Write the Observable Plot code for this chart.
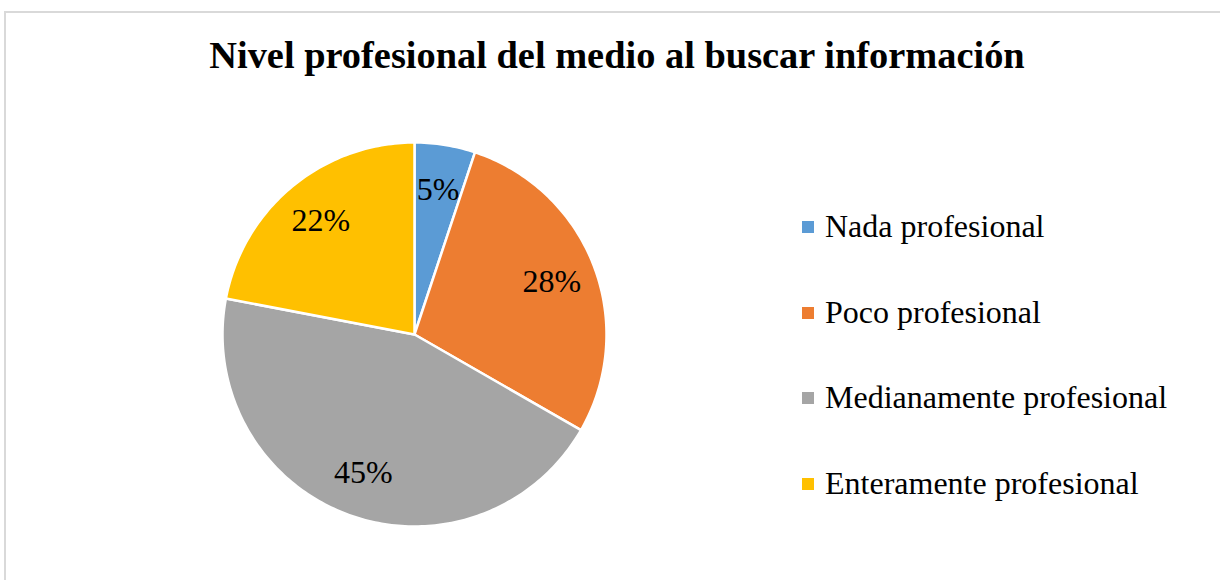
<!DOCTYPE html>
<html>
<head>
<meta charset="utf-8">
<script src="https://cdn.jsdelivr.net/npm/d3@7"></script>
<script src="https://cdn.jsdelivr.net/npm/@observablehq/plot@0.6"></script>
<style>
  html, body { margin: 0; padding: 0; background: #fff; }
  #wrap { position: relative; width: 1220px; height: 580px; overflow: hidden; font-family: "Liberation Serif", "Times New Roman", serif; }
  #border { position: absolute; left: 4px; top: 11px; width: 1300px; height: 700px; border-left: 2px solid #d9d9d9; border-top: 2px solid #d9d9d9; }
  #chart { position: absolute; left: 0; top: 0; }
  #title { position: absolute; left: 617px; top: 35px; transform: translateX(-50%); white-space: nowrap; font-weight: bold; font-size: 38.4px; line-height: 40px; color: #000; }
  .row { position: absolute; left: 802px; height: 32px; font-size: 32px; line-height: 32px; white-space: nowrap; color: #000; }
  .sw { position: absolute; left: 0; top: 11px; width: 12px; height: 12px; }
  .lab { position: absolute; left: 23px; top: 0; }
</style>
</head>
<body>
<div id="wrap">
  <div id="border"></div>
  <div id="chart"></div>
  <div id="title"></div>
  <div id="legend"></div>
</div>
<script>
const title = "Nivel profesional del medio al buscar información";
const categories = ["Nada profesional", "Poco profesional", "Medianamente profesional", "Enteramente profesional"];
const values = [5.1, 28.2, 44.7, 22.0];
const colors = ["#5B9BD5", "#ED7D31", "#A5A5A5", "#FFC000"];

const W = 1220, H = 580;
const cx = 414, cy = 334, R = 192;

const total = d3.sum(values);
const pie = d3.pie().sort(null).value(d => d.value)(categories.map((c, i) => ({category: c, value: values[i]})));

// Polygon points for each slice (unit circle, clockwise from top)
const slicePts = [];
for (const p of pie) {
  const n = Math.max(4, Math.ceil((p.endAngle - p.startAngle) / (Math.PI / 180)));
  slicePts.push({category: p.data.category, x: 0, y: 0});
  for (let j = 0; j <= n; j++) {
    const a = p.startAngle + (p.endAngle - p.startAngle) * j / n;
    slicePts.push({category: p.data.category, x: Math.sin(a), y: Math.cos(a)});
  }
  slicePts.push({category: p.data.category, x: 0, y: 0});
}

const labR = 0.766;
const labels = pie.map(p => {
  const a = (p.startAngle + p.endAngle) / 2;
  return {category: p.data.category, x: labR * Math.sin(a), y: labR * Math.cos(a), text: Math.round(p.data.value / total * 100) + "%"};
});

const chart = Plot.plot({
  width: W,
  height: H,
  margin: 0,
  x: {domain: [(0 - cx) / R, (W - cx) / R], axis: null},
  y: {domain: [-(H - cy) / R, cy / R], axis: null},
  color: {domain: categories, range: colors},
  style: {background: "transparent", overflow: "visible"},
  marks: [
    Plot.line(slicePts, {x: "x", y: "y", z: "category", fill: "category", stroke: "#fff", strokeWidth: 2.5, strokeLinejoin: "round", curve: "linear"}),
    Plot.text(labels, {x: "x", y: "y", text: "text", fontSize: 32, fontFamily: "Times New Roman", fill: "#000"})
  ]
});
document.getElementById("chart").appendChild(chart);

document.getElementById("title").textContent = title;

const legend = document.getElementById("legend");
categories.forEach((c, i) => {
  const row = document.createElement("div");
  row.className = "row";
  row.style.top = (210 + 85.7 * i) + "px";
  const sw = document.createElement("div");
  sw.className = "sw";
  sw.style.background = colors[i];
  const lab = document.createElement("div");
  lab.className = "lab";
  lab.textContent = c;
  row.appendChild(sw);
  row.appendChild(lab);
  legend.appendChild(row);
});
</script>
</body>
</html>
